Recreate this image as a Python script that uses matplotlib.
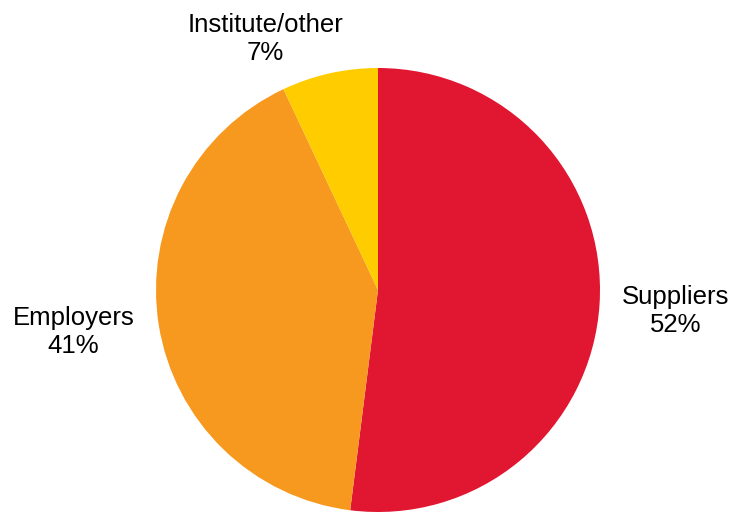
import matplotlib.pyplot as plt

plt.rcParams['font.family'] = ['Liberation Sans', 'DejaVu Sans']

# 数据
categories = ["Suppliers", "Employers", "Institute/other"]
shares = [52, 41, 7]
colors = ["#E11631", "#F7991F", "#FFCC00"]

# 标签位置（数据坐标，半径=1）
label_pos = [(1.342, -0.095), (-1.372, -0.19), (-0.509, 1.13)]

fig = plt.figure(figsize=(7.32, 5.12), dpi=100)
ax = fig.add_axes([156 / 732, 0.0, 444 / 732, 444 / 512])

ax.pie(shares, colors=colors, startangle=90, counterclock=False,
       wedgeprops=dict(linewidth=0))
ax.set_xlim(-1, 1)
ax.set_ylim(-1, 1)
ax.set_aspect("equal")
ax.axis("off")

for name, val, (x, y) in zip(categories, shares, label_pos):
    ax.text(x, y, "{}\n{}%".format(name, val), ha="center", va="center",
            fontsize=18.5, color="black", linespacing=1.2, clip_on=False)

fig.savefig("out.png", dpi=100)
